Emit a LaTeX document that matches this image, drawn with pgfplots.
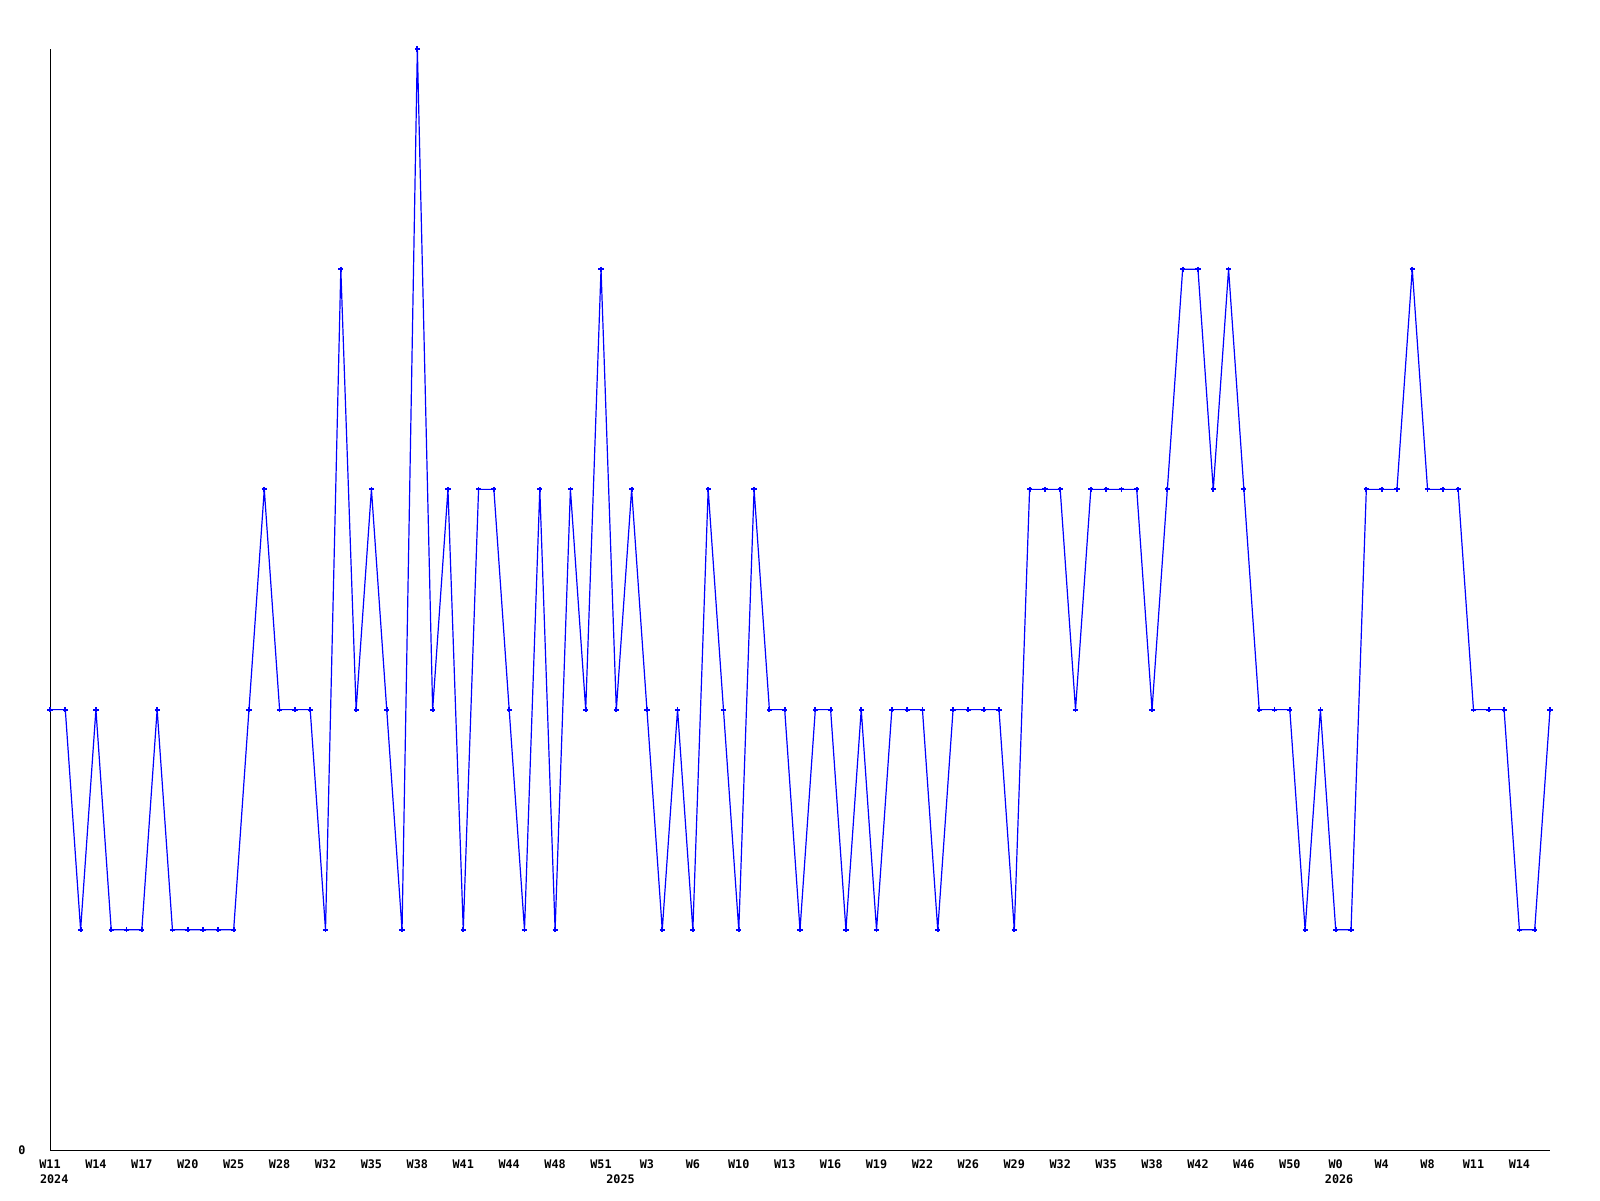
\documentclass[border=0pt]{standalone}
\usepackage{pgfplots}
\pgfplotsset{compat=1.18}
\usepackage{fontspec}
\setmonofont{DejaVu Sans Mono}
\newcommand{\lblfont}{\fontsize{5.9pt}{6.5pt}\selectfont\ttfamily\bfseries}
\begin{document}
\begin{tikzpicture}
\begin{axis}[
  scale only axis,
  width=750pt, height=550.5pt,
  xmin=0, xmax=98, ymin=0, ymax=5,
  axis x line=bottom, axis y line=left,
  axis line style={-, black, line width=0.5pt},
  major tick length=0pt,
  clip=false,
  xtick={0,3,...,96},
  xticklabels={W11,W14,W17,W20,W25,W28,W32,W35,W38,W41,W44,W48,W51,W3,W6,W10,W13,W16,W19,W22,W26,W29,W32,W35,W38,W42,W46,W50,W0,W4,W8,W11,W14},
  xticklabel style={font=\lblfont, anchor=north, inner sep=0pt, yshift=-4.5pt},
  ytick={0},
  yticklabels={0},
  yticklabel style={font=\lblfont, anchor=east, inner sep=0pt, xshift=-12pt},
]
\addplot[color={rgb,255:red,0;green,0;blue,255}, line width=0.6pt, mark=+, mark size=1.3pt, mark options={line width=0.9pt}] coordinates {
(0,2)(1,2)(2,1)(3,2)(4,1)(5,1)(6,1)(7,2)(8,1)(9,1)
(10,1)(11,1)(12,1)(13,2)(14,3)(15,2)(16,2)(17,2)(18,1)(19,4)
(20,2)(21,3)(22,2)(23,1)(24,5)(25,2)(26,3)(27,1)(28,3)(29,3)
(30,2)(31,1)(32,3)(33,1)(34,3)(35,2)(36,4)(37,2)(38,3)(39,2)
(40,1)(41,2)(42,1)(43,3)(44,2)(45,1)(46,3)(47,2)(48,2)(49,1)
(50,2)(51,2)(52,1)(53,2)(54,1)(55,2)(56,2)(57,2)(58,1)(59,2)
(60,2)(61,2)(62,2)(63,1)(64,3)(65,3)(66,3)(67,2)(68,3)(69,3)
(70,3)(71,3)(72,2)(73,3)(74,4)(75,4)(76,3)(77,4)(78,3)(79,2)
(80,2)(81,2)(82,1)(83,2)(84,1)(85,1)(86,3)(87,3)(88,3)(89,4)
(90,3)(91,3)(92,3)(93,2)(94,2)(95,2)(96,1)(97,1)(98,2)
};
\node[font=\lblfont, anchor=north west, inner sep=0pt, xshift=-5.2pt, yshift=-12pt] at (axis cs:0,0) {2024};
\node[font=\lblfont, anchor=north west, inner sep=0pt, xshift=-5.2pt, yshift=-12pt] at (axis cs:37,0) {2025};
\node[font=\lblfont, anchor=north west, inner sep=0pt, xshift=-5.6pt, yshift=-12pt] at (axis cs:84,0) {2026};
\end{axis}
\pgfresetboundingbox
\useasboundingbox (-25pt,-25pt) rectangle (775pt,575pt);
\end{tikzpicture}
\end{document}
